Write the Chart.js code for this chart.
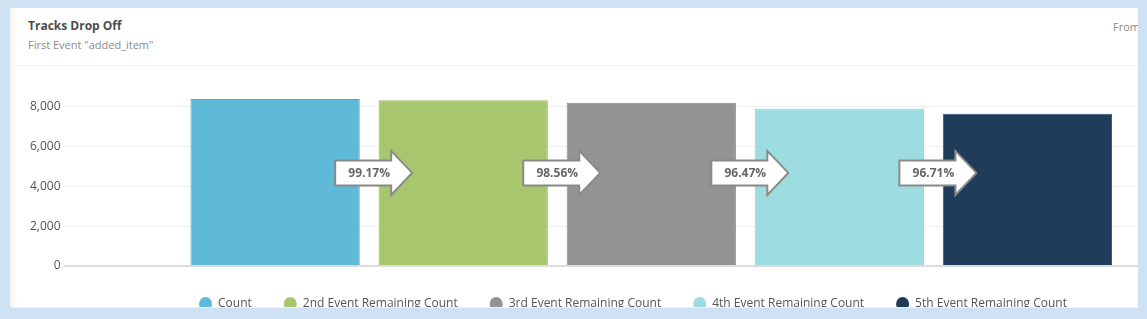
<!DOCTYPE html>
<html>
<head>
<meta charset="utf-8">
<script src="https://cdn.jsdelivr.net/npm/chart.js@4"></script>
<style>
  html, body { margin: 0; padding: 0; }
  body { width: 1147px; height: 319px; overflow: hidden; background: #cfe2f4; font-family: "Open Sans", sans-serif; position: relative; }
  .panel { position: absolute; left: 10px; top: 8px; width: 1128px; height: 300px; background: #fff; overflow: hidden; border-bottom-left-radius: 4px; }
  .strip { position: absolute; left: 0; top: 0; bottom: 0; width: 4px; background: #f5f8fb; }
  .bottom { position: absolute; left: 0; right: 0; bottom: 0; height: 1px; background: #eef1f4; }
  .title { position: absolute; left: 18px; top: 9px; font-size: 12px; font-weight: bold; color: #4d4d4d; }
  .subtitle { position: absolute; left: 18px; top: 29px; font-size: 11px; color: #8a8a8a; }
  .from { position: absolute; left: 1103px; top: 11px; font-size: 11px; color: #8a8a8a; }
  .sep { position: absolute; left: 4px; right: 0; top: 57px; height: 1px; background: #f0f0f0; }
  .chartbox { position: absolute; left: 2px; top: 62px; width: 1250px; height: 252px; }
</style>
</head>
<body>
<div class="panel">
  <div class="strip"></div>
  <div class="title">Tracks Drop Off</div>
  <div class="subtitle">First Event "added_item"</div>
  <div class="from">From</div>
  <div class="sep"></div>
  <div class="chartbox"><canvas id="myChart"></canvas></div>
  <div class="bottom"></div>
</div>
<script>
'use strict';

(function () {
  let seriesNames = [
    'Count',
    '2nd Event Remaining Count',
    '3rd Event Remaining Count',
    '4th Event Remaining Count',
    '5th Event Remaining Count'
  ];
  let counts = [8400, 8330, 8210, 7920, 7660];
  let dropOff = [99.17, 98.56, 96.47, 96.71]; // percent between steps, as shown
  let yTicks = [0, 2000, 4000, 6000, 8000];
  let barColors = ['#5fb9d8', '#a8c66d', '#939393', '#9ddde0', '#1f3c5a'];
  let barBorders = ['#4ba9cc', '#9bba5f', '#888888', '#93d5d8', '#35557a'];

  let chartContext = document.getElementById('myChart').getContext('2d');

  // white arrows with the drop-off percentage, sitting over each gap
  let arrowPlugin = {
    id: 'dropArrows',
    afterDatasetsDraw(chart) {
      let ctx = chart.ctx;
      let area = chart.chartArea;
      let y = area.top + (area.bottom - area.top) * 0.48;
      for (let i = 1; i < chart.data.datasets.length; i++) {
        let prev = chart.getDatasetMeta(i - 1).data[0];
        let cur = chart.getDatasetMeta(i).data[0];
        let g = (prev.x + prev.width / 2 + cur.x - cur.width / 2) / 2;
        ctx.save();
        ctx.beginPath();
        ctx.moveTo(g - 34, y - 12.5);
        ctx.lineTo(g + 22, y - 12.5);
        ctx.lineTo(g + 22, y - 22);
        ctx.lineTo(g + 43, y);
        ctx.lineTo(g + 22, y + 22);
        ctx.lineTo(g + 22, y + 12.5);
        ctx.lineTo(g - 34, y + 12.5);
        ctx.closePath();
        ctx.fillStyle = '#fff';
        ctx.fill();
        ctx.lineWidth = 2;
        ctx.strokeStyle = '#8a8a8a';
        ctx.lineJoin = 'miter';
        ctx.stroke();
        ctx.fillStyle = '#666';
        ctx.font = 'bold 12px "Open Sans"';
        ctx.textAlign = 'center';
        ctx.textBaseline = 'middle';
        ctx.fillText(dropOff[i - 1].toFixed(2) + '%', g, y + 1);
        ctx.restore();
      }
    }
  };

  let datasets = seriesNames.map((name, i) => ({
    label: name,
    data: [counts[i]],
    backgroundColor: barColors[i],
    borderColor: barBorders[i],
    borderWidth: 1
  }));

  let isShownTick = v => yTicks.indexOf(v) !== -1;

  new Chart(chartContext, {
    type: 'bar',
    data: { labels: [''], datasets },
    plugins: [arrowPlugin],
    options: {
      responsive: true,
      maintainAspectRatio: false,
      animation: false,
      layout: { padding: { left: 15, right: 23, top: 17, bottom: 2 } },
      plugins: {
        tooltip: { enabled: false },
        legend: {
          position: 'bottom',
          labels: {
            usePointStyle: true,
            pointStyle: 'circle',
            pointStyleWidth: 13,
            boxHeight: 10,
            padding: 32,
            color: '#555',
            font: { family: 'Open Sans', size: 12 },
            generateLabels(chart) {
              let items = Chart.defaults.plugins.legend.labels.generateLabels(chart);
              items.forEach(it => { it.lineWidth = 0; it.strokeStyle = it.fillStyle; });
              return items;
            }
          }
        }
      },
      scales: {
        x: { display: false },
        y: {
          min: 0,
          max: 9000,
          ticks: {
            stepSize: 1000,
            padding: 3,
            color: '#555',
            font: { family: 'Open Sans', size: 12 },
            callback: v => isShownTick(v) ? v.toLocaleString('en-US') : ''
          },
          border: { display: false },
          grid: {
            drawTicks: false,
            color: c => {
              if (!c.tick || !isShownTick(c.tick.value)) return 'rgba(0,0,0,0)';
              return c.tick.value === 0 ? '#dcdcdc' : '#eeeeee';
            },
            lineWidth: c => c.tick && c.tick.value === 0 ? 2 : 1
          }
        }
      }
    }
  });
})();
</script>
</body>
</html>
